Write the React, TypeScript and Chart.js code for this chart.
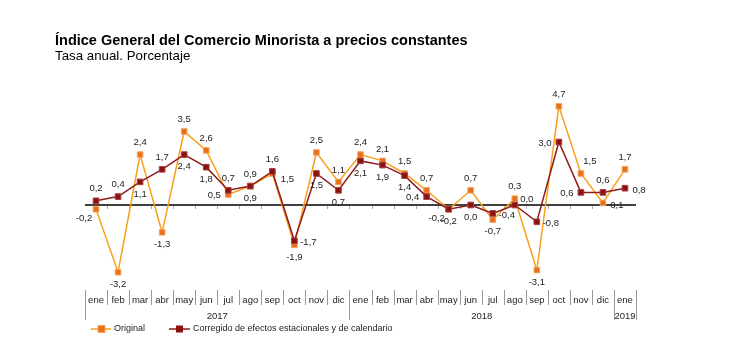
import React, { useEffect, useRef } from "react";
import { Chart, registerables } from "chart.js";

Chart.register(...registerables);

const months = ["ene", "feb", "mar", "abr", "may", "jun", "jul", "ago", "sep", "oct", "nov", "dic", "ene", "feb", "mar", "abr", "may", "jun", "jul", "ago", "sep", "oct", "nov", "dic", "ene"];
const yearLabels = ["2017", "2018", "2019"];
const yearStart = [0, 12, 24];
const yearEnd = [11, 23, 24];

const original = [-0.2, -3.2, 2.4, -1.3, 3.5, 2.6, 0.5, 0.9, 1.5, -1.9, 2.5, 1.1, 2.4, 2.1, 1.5, 0.7, -0.2, 0.7, -0.7, 0.3, -3.1, 4.7, 1.5, 0.1, 1.7];
const corrected = [0.2, 0.4, 1.1, 1.7, 2.4, 1.8, 0.7, 0.9, 1.6, -1.7, 1.5, 0.7, 2.1, 1.9, 1.4, 0.4, -0.2, 0.0, -0.4, 0.0, -0.8, 3.0, 0.6, 0.6, 0.8];

const seriesNames = ["Original", "Corregido de efectos estacionales y de calendario"];
const title = "Índice General del Comercio Minorista a precios constantes";
const subtitle = "Tasa anual. Porcentaje";

// label placement codes (layout only)
const origPos = ["bl", "b", "a", "b", "a", "a", "l", "b", "br", "b", "a", "a", "a", "a", "a", "a", "bl", "a", "b", "a", "b", "a", "ar", "r", "a"];
const corrPos = ["a", "a", "b", "a", "b", "b", "a", "a", "a", "r", "b", "b", "b", "b", "b", "l", "b", "b", "r", "ar2", "r", "l", "l", "a", "r"];

const OFFS: Record<string, [number, number]> = {
  a: [0, -12],
  b: [0, 12],
  l: [-14, 1],
  r: [14, 2],
  bl: [-12, 9],
  br: [15, 6],
  ar: [9, -12],
  ar2: [12, -6],
};

const FONT = "'Liberation Sans', Arial, sans-serif";
const ORANGE_LINE = "#F9A01B";
const ORANGE_FILL = "#E8701C";
const ORANGE_BORDER = "#F6A85E";
const RED_LINE = "#8E1B1B";
const RED_FILL = "#8B1010";
const RED_BORDER = "#A84040";

const fmt = (v: number) => v.toFixed(1).replace(".", ",");

const decoPlugin = {
  id: "deco",
  beforeDatasetsDraw(chart: any) {
    const { ctx, chartArea, scales } = chart;
    const y0 = scales.y.getPixelForValue(0);
    ctx.save();
    ctx.strokeStyle = "#000";
    ctx.lineWidth = 1.5;
    ctx.beginPath();
    ctx.moveTo(chartArea.left, y0);
    ctx.lineTo(chartArea.right, y0);
    ctx.stroke();
    ctx.strokeStyle = "#aaa";
    ctx.lineWidth = 1;
    const n = months.length;
    const w = (chartArea.right - chartArea.left) / n;
    for (let i = 1; i < n; i++) {
      const x = Math.round(chartArea.left + i * w) + 0.5;
      ctx.beginPath();
      ctx.moveTo(x, y0 + 1);
      ctx.lineTo(x, y0 + 4);
      ctx.stroke();
    }
    ctx.restore();
  },
  afterDatasetsDraw(chart: any) {
    const { ctx } = chart;
    ctx.save();
    ctx.font = `9.5px ${FONT}`;
    ctx.fillStyle = "#222";
    ctx.textAlign = "center";
    ctx.textBaseline = "middle";
    const sets: [number, string[]][] = [[1, origPos], [0, corrPos]];
    for (const [di, pos] of sets) {
      const meta = chart.getDatasetMeta(di);
      const data = chart.data.datasets[di].data as number[];
      meta.data.forEach((pt: any, i: number) => {
        const o = OFFS[pos[i]] || [0, -12];
        ctx.fillText(fmt(data[i]), pt.x + o[0], pt.y + o[1]);
      });
    }
    ctx.restore();
  },
  afterDraw(chart: any) {
    const { ctx, chartArea } = chart;
    const n = months.length;
    const left = chartArea.left;
    const w = (chartArea.right - chartArea.left) / n;
    ctx.save();
    ctx.fillStyle = "#000";
    ctx.textAlign = "left";
    ctx.textBaseline = "alphabetic";
    ctx.font = `bold 14.5px ${FONT}`;
    ctx.fillText(title, 55, 45);
    ctx.font = `13.3px ${FONT}`;
    ctx.fillText(subtitle, 55, 60);

    ctx.strokeStyle = "#999";
    ctx.lineWidth = 1;
    const isYearEdge = (i: number) => yearStart.includes(i) || i === n;
    for (let i = 0; i <= n; i++) {
      const x = Math.round(left + i * w) + 0.5;
      ctx.beginPath();
      ctx.moveTo(x, 290);
      ctx.lineTo(x, isYearEdge(i) ? 320 : 305);
      ctx.stroke();
    }
    ctx.fillStyle = "#222";
    ctx.font = `9.5px ${FONT}`;
    ctx.textAlign = "center";
    ctx.textBaseline = "middle";
    months.forEach((m, i) => ctx.fillText(m, left + (i + 0.5) * w, 300));
    yearLabels.forEach((y, k) => {
      const cx = left + ((yearStart[k] + yearEnd[k] + 1) / 2) * w;
      ctx.fillText(y, cx, 316);
    });

    const ly = 329;
    ctx.lineWidth = 1.5;
    ctx.strokeStyle = ORANGE_LINE;
    ctx.beginPath();
    ctx.moveTo(91, ly);
    ctx.lineTo(111, ly);
    ctx.stroke();
    ctx.fillStyle = ORANGE_FILL;
    ctx.fillRect(98, ly - 3.5, 7, 7);
    ctx.strokeStyle = ORANGE_BORDER;
    ctx.lineWidth = 1;
    ctx.strokeRect(98, ly - 3.5, 7, 7);
    ctx.lineWidth = 1.5;
    ctx.strokeStyle = RED_LINE;
    ctx.beginPath();
    ctx.moveTo(169, ly);
    ctx.lineTo(190, ly);
    ctx.stroke();
    ctx.fillStyle = RED_FILL;
    ctx.fillRect(176, ly - 3.5, 7, 7);
    ctx.fillStyle = "#222";
    ctx.textAlign = "left";
    ctx.font = `9px ${FONT}`;
    ctx.fillText(seriesNames[0], 114, ly);
    ctx.fillText(seriesNames[1], 193, ly);
    ctx.restore();
  },
};

export default function App() {
  const ref = useRef<HTMLCanvasElement | null>(null);
  useEffect(() => {
    if (!ref.current) return;
    const chart = new Chart(ref.current, {
      type: "line",
      data: {
        labels: months,
        datasets: [
          {
            label: seriesNames[1],
            data: corrected,
            borderColor: RED_LINE,
            borderWidth: 1.5,
            pointStyle: "rect",
            pointRadius: 4,
            pointBackgroundColor: RED_FILL,
            pointBorderColor: RED_BORDER,
            pointBorderWidth: 1,
            tension: 0,
            order: 0,
          },
          {
            label: seriesNames[0],
            data: original,
            borderColor: ORANGE_LINE,
            borderWidth: 1.5,
            pointStyle: "rect",
            pointRadius: 4,
            pointBackgroundColor: ORANGE_FILL,
            pointBorderColor: ORANGE_BORDER,
            pointBorderWidth: 1,
            tension: 0,
            order: 1,
          },
        ],
      },
      options: {
        responsive: false,
        animation: false,
        layout: { padding: { left: 85, right: 108, top: 100, bottom: 68 } },
        scales: {
          x: { display: false, offset: true },
          y: { display: false, min: -4, max: 5 },
        },
        plugins: { legend: { display: false }, tooltip: { enabled: false } },
      },
      plugins: [decoPlugin],
    });
    return () => chart.destroy();
  }, []);
  return (
    <div style={{ position: "absolute", left: 0, top: 0, width: 744, height: 357, background: "#fff" }}>
      <canvas ref={ref} width={744} height={357} style={{ width: 744, height: 357 }} />
    </div>
  );
}
